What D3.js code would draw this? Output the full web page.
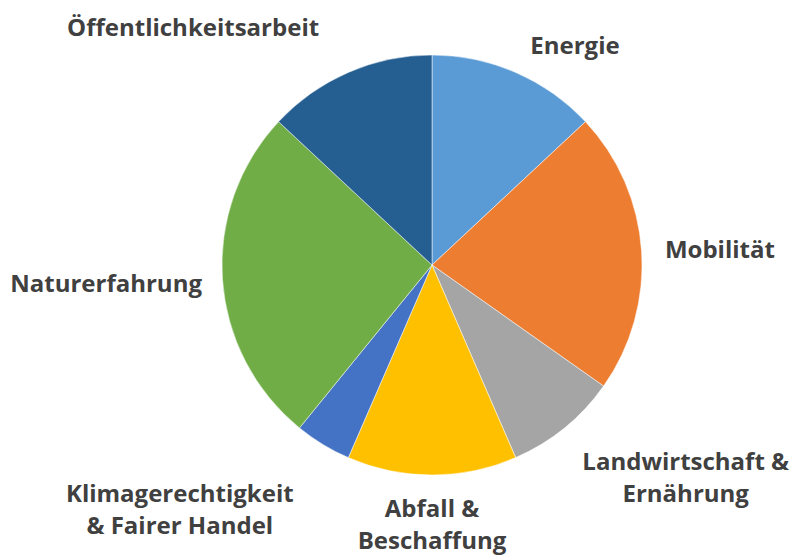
<!DOCTYPE html>
<html>
<head>
<meta charset="utf-8">
<script src="https://cdn.jsdelivr.net/npm/d3@7"></script>
<style>
  html, body { margin: 0; padding: 0; background: #fff; }
  svg { display: block; }
</style>
</head>
<body>
<div id="container"></div>
<script>
const canvasWidth = 793;
const canvasHeight = 556;

// chart data (counts per topic, clockwise from 12 o'clock)
let categories = ['Energie', 'Mobilität', 'Landwirtschaft & Ernährung', 'Abfall & Beschaffung',
  'Klimagerechtigkeit & Fairer Handel', 'Naturerfahrung', 'Öffentlichkeitsarbeit'];
let values = [3, 5, 2, 3, 1, 6, 3];
let colors = ['#5B9BD5', '#ED7D31', '#A5A5A5', '#FFC000', '#4472C4', '#70AD47', '#255E91'];
// label text split over lines
let labelLines = [
  ['Energie'],
  ['Mobilität'],
  ['Landwirtschaft &', 'Ernährung'],
  ['Abfall &', 'Beschaffung'],
  ['Klimagerechtigkeit', '& Fairer Handel'],
  ['Naturerfahrung'],
  ['Öffentlichkeitsarbeit']
];

// layout
let cx = 432;
let cy = 265;
let radius = 210;
let lineHeight = 32;
// label placement: angle (deg, clockwise from top) and distance of first baseline from centre
let labelPlace = [
  {angle: 34.1, dist: 255},
  {angle: 88.6, dist: 288},
  {angle: 128.9, dist: 326},
  {angle: 180, dist: 252},
  {angle: 226.8, dist: 346},
  {angle: 265.3, dist: 327},
  {angle: 313.8, dist: 331}
];

let data = categories.map(function(c, i){
  return {name: c, value: values[i], color: colors[i], lines: labelLines[i], place: labelPlace[i]};
});

let svg = d3.select('#container')
  .append('svg')
  .attr('width', canvasWidth)
  .attr('height', canvasHeight);

let viz = svg.append('g')
  .attr('transform', 'translate(' + cx + ',' + cy + ')');

let pie = d3.pie().sort(null).value(function(d){ return d.value; });
let arc = d3.arc().innerRadius(0).outerRadius(radius);

let slices = pie(data);

viz.selectAll('.slice').data(slices).enter()
  .append('path')
  .attr('class', 'slice')
  .attr('d', arc)
  .style('fill', function(d){ return d.data.color; })
  .style('stroke', '#ffffff')
  .style('stroke-width', 0.5);

function labelX(d){
  let a = d.data.place.angle * Math.PI / 180;
  return Math.sin(a) * d.data.place.dist;
}
function labelY(d){
  let a = d.data.place.angle * Math.PI / 180;
  return -Math.cos(a) * d.data.place.dist;
}

let labels = viz.selectAll('.label').data(slices).enter()
  .append('text')
  .attr('class', 'label')
  .attr('text-anchor', 'middle')
  .attr('x', labelX)
  .attr('y', labelY)
  .style('font-family', '"Open Sans", Lato, sans-serif')
  .style('font-weight', 'bold')
  .style('font-size', '24px')
  .style('fill', '#404040');

labels.selectAll('tspan')
  .data(function(d){
    return d.data.lines.map(function(t, i){ return {t: t, i: i, x: labelX(d)}; });
  })
  .enter()
  .append('tspan')
  .attr('x', function(l){ return l.x; })
  .attr('dy', function(l){ return l.i == 0 ? 0 : lineHeight; })
  .text(function(l){ return l.t; });
</script>
</body>
</html>
